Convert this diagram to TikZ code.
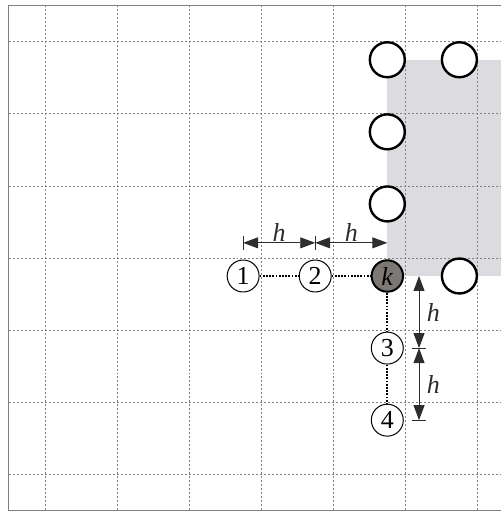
\documentclass[tikz,border=0pt]{standalone}
\usepackage{fontspec}
\setmainfont{Liberation Serif}
\usepackage{tikz}
\usetikzlibrary{arrows.meta,positioning}

\definecolor{shadegray}{RGB}{220,220,224}
\definecolor{kfill}{RGB}{125,120,116}
\definecolor{gridgray}{RGB}{130,130,130}
\definecolor{dimgray}{RGB}{45,45,45}
\newcommand{\lbl}{\fontsize{26}{28}\selectfont}

\begin{document}
\begin{tikzpicture}[x=72.2pt,y=72.2pt,
	every node/.style={font=\lbl},
	pt/.style={circle,draw,fill=white,line width=2.4pt,minimum size=35pt,inner sep=0pt},
	num/.style={circle,draw,fill=white,line width=1pt,minimum size=32pt,inner sep=0pt},
	kpt/.style={circle,draw,fill=kfill,line width=2pt,minimum size=31.5pt,inner sep=0pt},
	link/.style={line width=2.2pt,dash pattern=on 1.8pt off 1.4pt},
	gridline/.style={gridgray,line width=0.7pt,dash pattern=on 2pt off 2pt},
	dim/.style={dimgray,line width=0.9pt,{Triangle[length=15pt,width=11pt]}-{Triangle[length=15pt,width=11pt]}},
	tickmark/.style={dimgray,line width=0.9pt}]
	\useasboundingbox (-0.623,-0.51) rectangle (6.316,6.579);
	% shaded region
	\fill[shadegray] (4.75,2.75) rectangle (6.4,5.75);
	% grid
	\foreach \i in {0,...,6} {
		\draw[gridline] (\i,-0.5) -- (\i,6.5);
		\draw[gridline] (-0.5,\i) -- (6.4,\i);
	}
	\draw[gray,line width=0.8pt] (6.4,6.5) -- (-0.5,6.5) -- (-0.5,-0.5) -- (6.4,-0.5);

	\node[pt] (a1) at (4.75,5.75) {};
	\node[pt] (a2) at (5.75,5.75) {};
	\node[pt] (a3) at (4.75,4.75) {};
	\node[pt] (a4) at (4.75,3.75) {};
	\node[pt] (a5) at (5.75,2.75) {};
	\node[kpt] (k) at (4.75,2.75) {\textit{k}};
	\node[num] (n1) at (2.75,2.75) {1};
	\node[num] (n2) at (3.75,2.75) {2};
	\node[num] (n3) at (4.75,1.75) {3};
	\node[num] (n4) at (4.75,0.75) {4};

	\draw[link] (n1) -- (n2);
	\draw[link] (n2) -- (k);
	\draw[link] (k) -- (n3);
	\draw[link] (n3) -- (n4);

	% spacings
	\coordinate (hx1) at (2.75,3.21);
	\coordinate (hx2) at (3.75,3.21);
	\coordinate (hx3) at (4.75,3.21);
	\coordinate (hy1) at (5.19,2.75);
	\coordinate (hy2) at (5.19,1.75);
	\coordinate (hy3) at (5.19,0.75);
	\draw[dim] (hx1) -- node[above=-2pt] (lx1) {\textit{h}} (hx2);
	\draw[dim] (hx2) -- node[above=-2pt] (lx2) {\textit{h}} (hx3);
	\draw[dim] (hy1) -- node[right=4pt] (ly1) {\textit{h}} (hy2);
	\draw[dim] (hy2) -- node[right=4pt] (ly2) {\textit{h}} (hy3);
	\draw[tickmark] ([yshift=-7pt]hx1) -- ([yshift=7pt]hx1);
	\draw[tickmark] ([yshift=-7pt]hx2) -- ([yshift=7pt]hx2);
	\draw[tickmark] ([xshift=-7pt]hy2) -- ([xshift=7pt]hy2);
	\draw[tickmark] ([xshift=-7pt]hy3) -- ([xshift=7pt]hy3);
\end{tikzpicture}
\end{document}
